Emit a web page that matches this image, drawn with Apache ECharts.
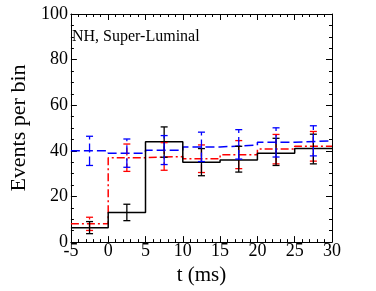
<!DOCTYPE html>
<html>
<head>
<meta charset="utf-8">
<script src="https://cdn.jsdelivr.net/npm/echarts@6/dist/echarts.min.js"></script>
<style>html,body{margin:0;padding:0;background:#fff}#c{width:376px;height:291px}</style>
</head>
<body>
<div id="c"></div>
<script>
// Bin edges (ms) and step-histogram values (last value repeated at the right edge)
const binEdges = [-5, 0, 5, 10, 15, 20, 25, 30];
const binCenters = [-2.5, 2.5, 7.5, 12.5, 17.5, 22.5, 27.5];
const blackValues = [6.3, 13, 44, 35, 36, 39, 41];
const redValues   = [8, 37, 37.5, 36.5, 38.3, 40.8, 42];
const blueValues  = [40, 39, 40.3, 41.7, 42.5, 43.8, 44.4];
// Error bar lows / highs
const blackLow  = [3.7, 9.4, 37.2, 29.1, 30.7, 33.6, 34.3];
const blackHigh = [9.0, 16.6, 50.5, 41.0, 42.0, 45.5, 47.3];
const redLow    = [5.1, 31.0, 31.5, 30.5, 32.2, 34.3, 35.5];
const redHigh   = [10.9, 43.0, 43.6, 42.6, 44.5, 47.2, 48.5];
const blueLow   = [33.6, 32.8, 34.0, 35.3, 36.4, 37.3, 37.8];
const blueHigh  = [46.4, 45.2, 46.7, 48.2, 49.3, 50.1, 51.0];
const xTicks = [-5, 0, 5, 10, 15, 20, 25, 30];
const yTicks = [0, 20, 40, 60, 80, 100];

const FONT = 'Liberation Serif';

function stepData(vals) {
  const d = binEdges.slice(0, -1).map((e, i) => [e, vals[i]]);
  d.push([binEdges[binEdges.length - 1], vals[vals.length - 1]]);
  return d;
}
function errData(low, high) {
  return binCenters.map((c, i) => [c, low[i], high[i]]);
}
function errSeries(name, low, high, color, dash) {
  return {
    type: 'custom', name: name, z: 3,
    data: errData(low, high),
    encode: { x: 0, y: [1, 2] },
    renderItem: function (params, api) {
      const x = api.value(0);
      const p1 = api.coord([x, api.value(1)]);
      const p2 = api.coord([x, api.value(2)]);
      const w = 3.5;
      const style = { stroke: color, lineWidth: 1.3, lineDash: dash, fill: null };
      return {
        type: 'group',
        children: [
          { type: 'line', shape: { x1: p1[0], y1: p1[1], x2: p2[0], y2: p2[1] }, style: style },
          { type: 'line', shape: { x1: p1[0] - w, y1: p1[1], x2: p1[0] + w, y2: p1[1] }, style: { stroke: color, lineWidth: 1.3 } },
          { type: 'line', shape: { x1: p2[0] - w, y1: p2[1], x2: p2[0] + w, y2: p2[1] }, style: { stroke: color, lineWidth: 1.3 } }
        ]
      };
    }
  };
}

function axisCommon() {
  return {
    axisLine: { show: true, onZero: false, lineStyle: { color: '#000', width: 1 } },
    axisTick: { show: true, inside: true, length: 6, lineStyle: { color: '#000' } },
    splitLine: { show: false }
  };
}

const chart = echarts.init(document.getElementById('c'), null, { renderer: 'canvas' });
chart.setOption({
  animation: false,
  backgroundColor: '#fff',
  grid: { left: 58, right: 44, top: 14, bottom: 46 },
  graphic: [{
    type: 'text', left: 72, top: 29,
    style: { text: 'NH, Super-Luminal', font: '16px "' + FONT + '"', fill: '#000' }
  }],
  xAxis: [
    Object.assign(axisCommon(), {
      type: 'value', min: -5, max: 30, interval: 5, position: 'bottom',
      minorTick: { show: true, splitNumber: 5, length: 3, lineStyle: { color: '#000' } },
      axisLabel: { fontFamily: FONT, fontSize: 18, color: '#000', margin: 0,
        formatter: v => xTicks.includes(v) ? String(v) : '' },
      name: 't (ms)', nameLocation: 'middle', nameGap: 19,
      nameTextStyle: { fontFamily: FONT, fontSize: 21, color: '#000' }
    }),
    Object.assign(axisCommon(), {
      type: 'value', min: -5, max: 30, interval: 5, position: 'top',
      minorTick: { show: true, splitNumber: 5, length: 3, lineStyle: { color: '#000' } },
      axisLabel: { show: false }
    })
  ],
  yAxis: [
    Object.assign(axisCommon(), {
      type: 'value', min: 0, max: 100, interval: 20, position: 'left',
      minorTick: { show: true, splitNumber: 4, length: 3, lineStyle: { color: '#000' } },
      axisLabel: { fontFamily: FONT, fontSize: 18, color: '#000', margin: 3,
        formatter: v => yTicks.includes(v) ? String(v) : '' },
      name: 'Events per bin', nameLocation: 'middle', nameGap: 36,
      nameTextStyle: { fontFamily: FONT, fontSize: 22, color: '#000' }
    }),
    Object.assign(axisCommon(), {
      type: 'value', min: 0, max: 100, interval: 20, position: 'right',
      minorTick: { show: true, splitNumber: 4, length: 3, lineStyle: { color: '#000' } },
      axisLabel: { show: false }
    })
  ],
  series: [
    { type: 'line', name: 'blue', step: 'end', data: stepData(blueValues), symbol: 'none', z: 2,
      lineStyle: { color: '#0000ff', width: 1.5, type: [9, 4] } },
    { type: 'line', name: 'red', step: 'end', data: stepData(redValues), symbol: 'none', z: 2,
      lineStyle: { color: '#ff0000', width: 1.5, type: [8, 3, 2, 3] } },
    { type: 'line', name: 'black', step: 'end', data: stepData(blackValues), symbol: 'none', z: 2,
      lineStyle: { color: '#000000', width: 1.5 } },
    errSeries('redErr', redLow, redHigh, '#ff0000', [8, 3, 2, 3]),
    errSeries('blackErr', blackLow, blackHigh, '#000000', null),
    errSeries('blueErr', blueLow, blueHigh, '#0000ff', [9, 4])
  ]
});
</script>
</body>
</html>
